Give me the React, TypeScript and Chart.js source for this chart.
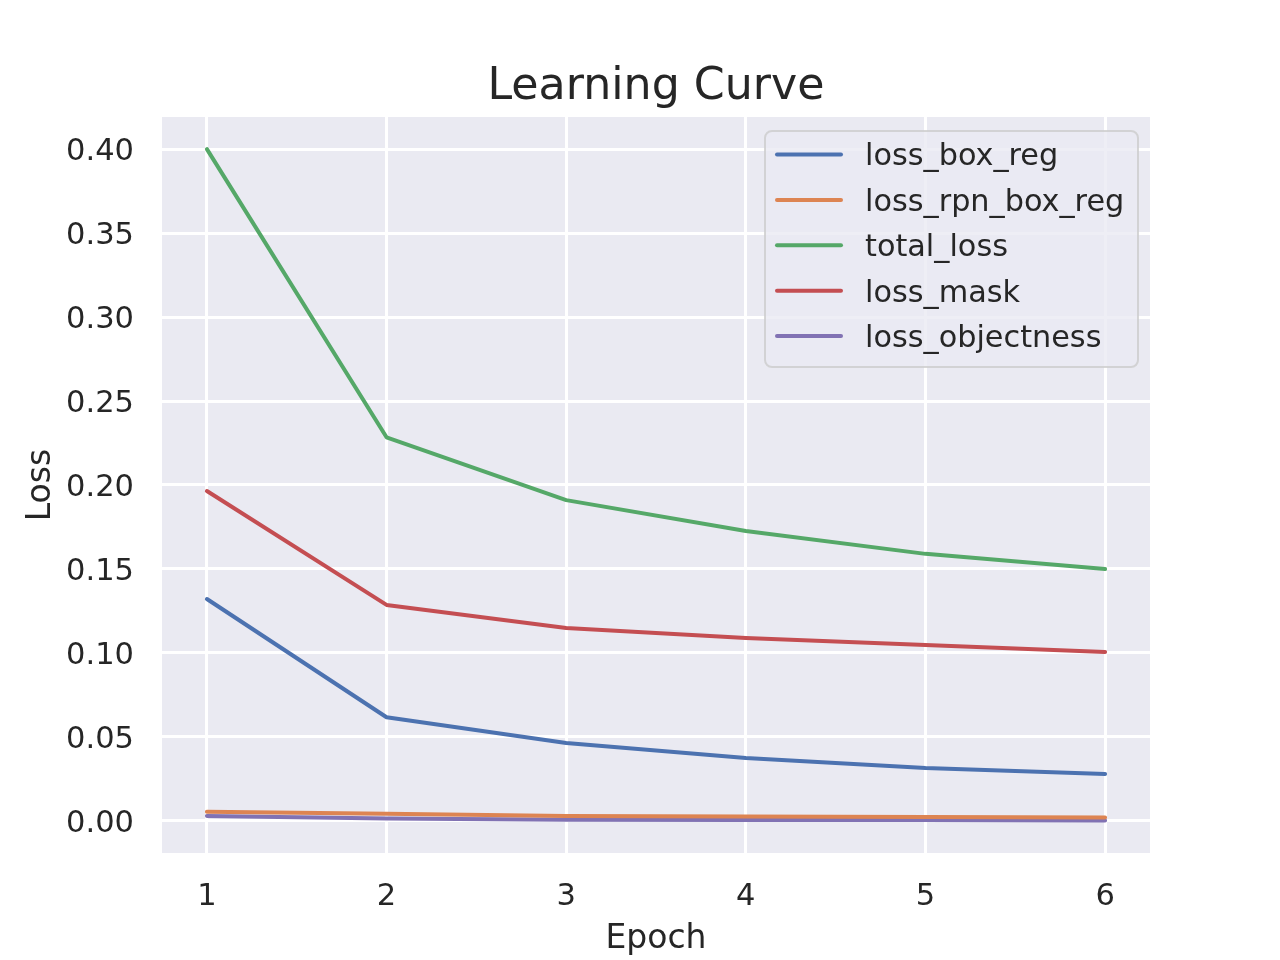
import React, { useEffect, useRef } from "react";
import { Chart, registerables } from "chart.js";

Chart.register(...registerables);

const epochs = [1, 2, 3, 4, 5, 6];
const seriesNames = ["loss_box_reg", "loss_rpn_box_reg", "total_loss", "loss_mask", "loss_objectness"];
const lossBoxReg = [0.1321, 0.0617, 0.0464, 0.0375, 0.0315, 0.028];
const lossRpnBoxReg = [0.0055, 0.0042, 0.0030, 0.0027, 0.0024, 0.0020];
const totalLoss = [0.400, 0.2284, 0.191, 0.1726, 0.159, 0.150];
const lossMask = [0.1964, 0.1286, 0.1149, 0.1089, 0.1048, 0.1006];
const lossObjectness = [0.0030, 0.0015, 0.0007, 0.0006, 0.0005, 0.0002];
const seriesValues = [lossBoxReg, lossRpnBoxReg, totalLoss, lossMask, lossObjectness];
const seriesColors = ["#4C72B0", "#DD8452", "#55A868", "#C44E52", "#8172B3"];
const yTicks = [0, 0.05, 0.1, 0.15, 0.2, 0.25, 0.3, 0.35, 0.4];
const xTicks = [1, 2, 3, 4, 5, 6];
const chartTitle = "Learning Curve";

const FONT = "'DejaVu Sans', sans-serif";
const TEXT = "#262626";

const bgPlugin = {
  id: "plotBg",
  beforeDraw(chart: any) {
    const { ctx, chartArea } = chart;
    ctx.save();
    ctx.fillStyle = "#ffffff";
    ctx.fillRect(0, 0, chart.width, chart.height);
    ctx.fillStyle = "#EAEAF2";
    ctx.fillRect(chartArea.left, chartArea.top, chartArea.right - chartArea.left, chartArea.bottom - chartArea.top);
    ctx.restore();
  },
  afterDraw(chart: any) {
    const { ctx, chartArea } = chart;
    ctx.save();
    ctx.fillStyle = TEXT;
    ctx.font = `44.3px ${FONT}`;
    ctx.textAlign = "center";
    ctx.textBaseline = "alphabetic";
    ctx.fillText(chartTitle, (chartArea.left + chartArea.right) / 2, 98.5);
    ctx.restore();
  },
};

const legendPlugin = {
  id: "innerLegend",
  afterDatasetsDraw(chart: any) {
    const { ctx } = chart;
    const x0 = 765, y0 = 131, w = 373, h = 236, r = 7;
    ctx.save();
    ctx.beginPath();
    ctx.moveTo(x0 + r, y0);
    ctx.arcTo(x0 + w, y0, x0 + w, y0 + h, r);
    ctx.arcTo(x0 + w, y0 + h, x0, y0 + h, r);
    ctx.arcTo(x0, y0 + h, x0, y0, r);
    ctx.arcTo(x0, y0, x0 + w, y0, r);
    ctx.closePath();
    ctx.fillStyle = "rgba(234,234,242,0.8)";
    ctx.fill();
    ctx.lineWidth = 2;
    ctx.strokeStyle = "rgba(204,204,204,0.8)";
    ctx.stroke();
    chart.data.datasets.forEach((ds: any, i: number) => {
      const y = 154.5 + i * 45.4;
      ctx.beginPath();
      ctx.moveTo(777, y);
      ctx.lineTo(841, y);
      ctx.strokeStyle = ds.borderColor;
      ctx.lineWidth = 4;
      ctx.lineCap = "round";
      ctx.stroke();
      ctx.fillStyle = TEXT;
      ctx.font = `30.3px ${FONT}`;
      ctx.textBaseline = "middle";
      ctx.textAlign = "left";
      ctx.fillText(ds.label, 865, y + 3);
    });
    ctx.restore();
  },
};

export default function App() {
  const ref = useRef<HTMLCanvasElement | null>(null);
  useEffect(() => {
    if (!ref.current) return;
    const chart = new Chart(ref.current, {
      type: "line",
      data: {
        datasets: seriesNames.map((name, i) => ({
          label: name,
          data: epochs.map((e, j) => ({ x: e, y: seriesValues[i][j] })),
          borderColor: seriesColors[i],
          backgroundColor: seriesColors[i],
          borderWidth: 4,
          pointRadius: 0,
          tension: 0,
          fill: false,
          borderCapStyle: "round",
          borderJoinStyle: "round",
        })),
      },
      options: {
        animation: false,
        responsive: false,
        maintainAspectRatio: false,
        layout: { padding: { left: 0, right: 130, top: 117, bottom: 0 } },
        plugins: {
          legend: { display: false },
          tooltip: { enabled: false },
          title: { display: false },
        },
        scales: {
          x: {
            type: "linear",
            min: 0.75,
            max: 6.25,
            afterBuildTicks: (s: any) => {
              s.ticks = xTicks.map((v) => ({ value: v }));
            },
            afterFit: (s: any) => {
              s.height = 107;
            },
            ticks: {
              color: TEXT,
              font: { family: FONT, size: 30.5 },
              padding: 26,
              maxRotation: 0,
              callback: (v: any) => String(v),
            },
            grid: { color: "#ffffff", lineWidth: 3, drawTicks: false },
            border: { display: false },
            title: {
              display: true,
              text: "Epoch",
              color: TEXT,
              font: { family: FONT, size: 33, lineHeight: 1.2 },
              padding: { top: 0, bottom: 1 },
            },
          },
          y: {
            type: "linear",
            min: -0.0191,
            max: 0.4191,
            afterBuildTicks: (s: any) => {
              s.ticks = yTicks.map((v) => ({ value: v }));
            },
            afterFit: (s: any) => {
              s.width = 162;
            },
            ticks: {
              color: TEXT,
              font: { family: FONT, size: 30.5 },
              padding: 28,
              labelOffset: 3,
              callback: (v: any) => Number(v).toFixed(2),
            },
            grid: { color: "#ffffff", lineWidth: 3, drawTicks: false },
            border: { display: false },
            title: {
              display: true,
              text: "Loss",
              color: TEXT,
              font: { family: FONT, size: 33, lineHeight: 1.2 },
              padding: { top: 22, bottom: 0 },
            },
          },
        },
      },
      plugins: [bgPlugin, legendPlugin],
    } as any);
    return () => chart.destroy();
  }, []);
  return (
    <div style={{ position: "fixed", left: 0, top: 0, width: 1280, height: 960, background: "#fff" }}>
      <canvas ref={ref} width={1280} height={960} style={{ width: 1280, height: 960, display: "block" }} />
    </div>
  );
}
